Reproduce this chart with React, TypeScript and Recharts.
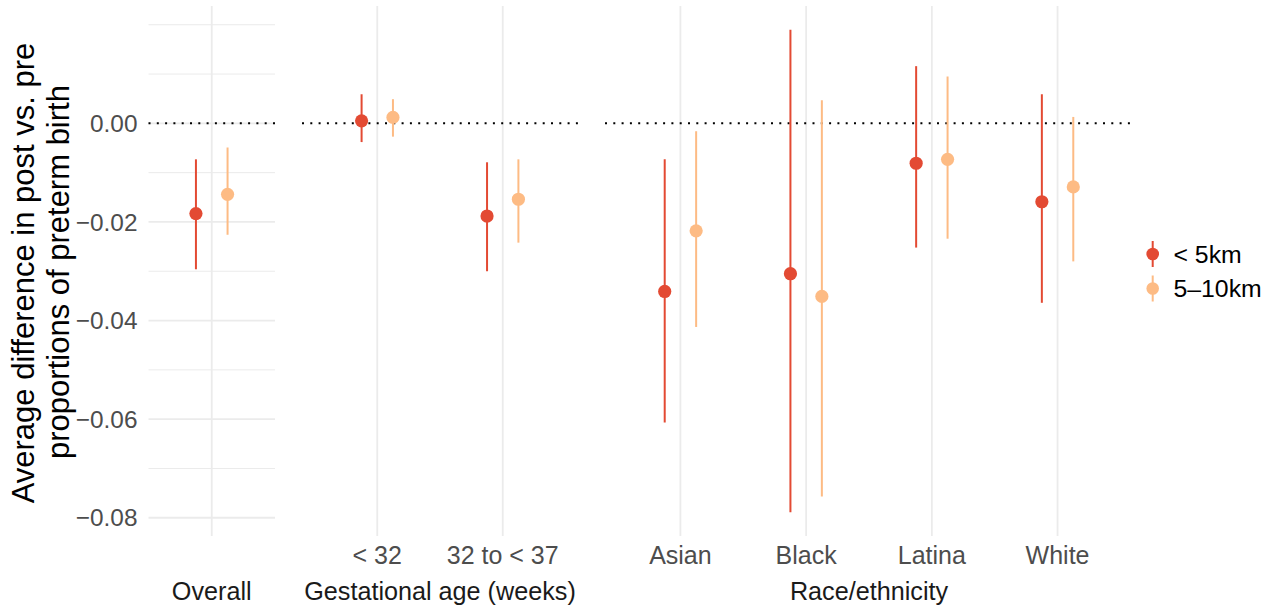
import {
  ScatterChart,
  Scatter,
  XAxis,
  YAxis,
  CartesianGrid,
  ReferenceLine,
  ErrorBar,
} from "recharts";

// facet groups and their categories
const overallCats = [""];
const gestCats = ["< 32", "32 to < 37"];
const raceCats = ["Asian", "Black", "Latina", "White"];
const distances = ["< 5km", "5–10km"];

// < 5km
const nearOverall = [-0.0183];
const nearOverallLow = [-0.0296];
const nearOverallHigh = [-0.0073];
const nearGest = [0.0005, -0.0188];
const nearGestLow = [-0.0038, -0.03];
const nearGestHigh = [0.0059, -0.0079];
const nearRace = [-0.0341, -0.0305, -0.0081, -0.0159];
const nearRaceLow = [-0.0607, -0.0789, -0.0252, -0.0364];
const nearRaceHigh = [-0.0073, 0.019, 0.0116, 0.0059];

// 5-10km
const farOverall = [-0.0144];
const farOverallLow = [-0.0226];
const farOverallHigh = [-0.0049];
const farGest = [0.0012, -0.0154];
const farGestLow = [-0.0027, -0.0242];
const farGestHigh = [0.0049, -0.0073];
const farRace = [-0.0218, -0.0351, -0.0073, -0.0129];
const farRaceLow = [-0.0413, -0.0757, -0.0234, -0.028];
const farRaceHigh = [-0.0016, 0.0047, 0.0095, 0.0013];

const majorTicks = [-0.08, -0.06, -0.04, -0.02, 0];
const minorTicks = [-0.07, -0.05, -0.03, -0.01, 0.01, 0.02];

const COLORS = ["#E34A33", "#FDBB84"];
const FONT = '"Liberation Sans", Arial, Helvetica, sans-serif';
const Y_DOMAIN = [-0.0837, 0.0238];
const DODGE = 0.125;

const fmt = (v: number) => {
  const s = Math.abs(v).toFixed(2);
  return v < -1e-9 ? "\u2212" + s : s;
};

const rows = (est: number[], low: number[], high: number[], offset: number) =>
  est.map((v, i) => ({ x: i + 1 + offset, y: v, err: [v - low[i], high[i] - v] }));

const panels = [
  {
    label: "Overall",
    cats: overallCats,
    pad: 0.5,
    left: 0,
    width: 275,
    axisWidth: 148.5,
    series: [
      rows(nearOverall, nearOverallLow, nearOverallHigh, -DODGE),
      rows(farOverall, farOverallLow, farOverallHigh, DODGE),
    ],
  },
  {
    label: "Gestational age (weeks)",
    cats: gestCats,
    pad: 0.6,
    left: 302,
    width: 276,
    axisWidth: 0,
    series: [
      rows(nearGest, nearGestLow, nearGestHigh, -DODGE),
      rows(farGest, farGestLow, farGestHigh, DODGE),
    ],
  },
  {
    label: "Race/ethnicity",
    cats: raceCats,
    pad: 0.6,
    left: 605,
    width: 528,
    axisWidth: 0,
    series: [
      rows(nearRace, nearRaceLow, nearRaceHigh, -DODGE),
      rows(farRace, farRaceLow, farRaceHigh, DODGE),
    ],
  },
];

const YTitle = () => (
  <g fontSize={31} fill="#000">
    <text x={33.5} y={273} transform="rotate(-90, 33.5, 273)" textAnchor="middle">
      Average difference in post vs. pre
    </text>
    <text x={69} y={272} transform="rotate(-90, 69, 272)" textAnchor="middle">
      proportions of preterm birth
    </text>
  </g>
);

export default function App() {
  return (
    <div
      style={{
        position: "absolute",
        left: 0,
        top: 0,
        width: 1280,
        height: 609,
        background: "#fff",
        fontFamily: FONT,
      }}
    >
      {panels.map((p, pi) => {
        const catTicks = p.cats.map((_, i) => i + 1);
        return (
          <div key={p.label} style={{ position: "absolute", left: p.left, top: 0 }}>
            <ScatterChart
              width={p.width}
              height={609}
              margin={{ top: 6, right: 0, bottom: 33, left: 0 }}
            >
              <CartesianGrid
                stroke="#EBEBEB"
                strokeWidth={1}
                vertical={false}
                horizontalValues={minorTicks}
              />
              <CartesianGrid
                stroke="#EBEBEB"
                strokeWidth={1.8}
                horizontalValues={majorTicks}
                verticalValues={catTicks}
              />
              <XAxis
                type="number"
                dataKey="x"
                domain={[1 - p.pad, p.cats.length + p.pad]}
                ticks={catTicks}
                tickFormatter={(v: number) => p.cats[Math.round(v) - 1] ?? ""}
                allowDataOverflow
                axisLine={false}
                tickLine={false}
                tickSize={0}
                tickMargin={10}
                height={40}
                tick={{ fill: "#4D4D4D", fontSize: 25 }}
                label={{
                  value: p.label,
                  position: "bottom",
                  offset: 6,
                  fill: "#1A1A1A",
                  fontSize: 25.2,
                }}
              />
              <YAxis
                type="number"
                dataKey="y"
                domain={Y_DOMAIN}
                ticks={majorTicks}
                allowDataOverflow
                width={p.axisWidth}
                axisLine={false}
                tickLine={false}
                tickSize={0}
                tickMargin={11}
                tick={pi === 0 ? { fill: "#4D4D4D", fontSize: 24.4 } : false}
                tickFormatter={fmt}
                label={pi === 0 ? { content: () => <YTitle /> } : undefined}
              />
              <ReferenceLine y={0} stroke="#000" strokeWidth={2} strokeDasharray="2 6.3" />
              {p.series.map((data, si) => (
                <Scatter
                  key={distances[si]}
                  name={distances[si]}
                  data={data}
                  fill={COLORS[si]}
                  isAnimationActive={false}
                  shape={(props: any) => (
                    <circle cx={props.cx} cy={props.cy} r={6.6} fill={COLORS[si]} />
                  )}
                >
                  <ErrorBar
                    dataKey="err"
                    direction="y"
                    width={0}
                    stroke={COLORS[si]}
                    strokeWidth={2}
                    isAnimationActive={false}
                  />
                </Scatter>
              ))}
            </ScatterChart>
          </div>
        );
      })}
      <svg
        width={140}
        height={80}
        style={{ position: "absolute", left: 1140, top: 230 }}
        fontFamily={FONT}
      >
        {distances.map((d, i) => {
          const cy = 24 + i * 34.5;
          return (
            <g key={d}>
              <line x1={12.7} x2={12.7} y1={cy - 13} y2={cy + 13} stroke={COLORS[i]} strokeWidth={2} />
              <circle cx={12.7} cy={cy} r={6.3} fill={COLORS[i]} />
              <text x={33.5} y={cy} dy="0.355em" fontSize={24.8} fill="#000">
                {d}
              </text>
            </g>
          );
        })}
      </svg>
    </div>
  );
}
